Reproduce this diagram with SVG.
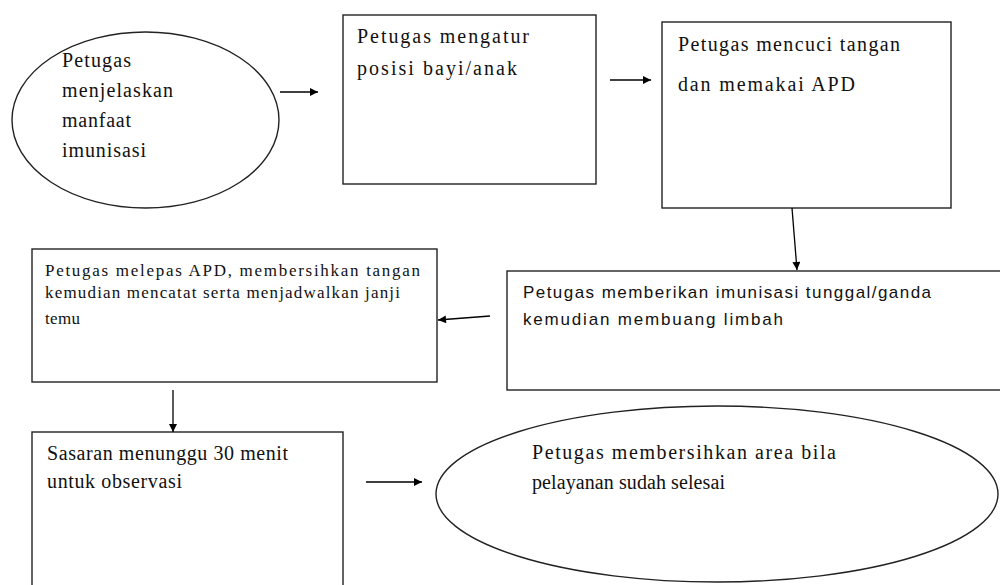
<svg xmlns="http://www.w3.org/2000/svg" width="1000" height="585" viewBox="0 0 1000 585">
<defs>
<marker id="ah" viewBox="0 0 10 10" refX="10" refY="5" markerWidth="9" markerHeight="8" markerUnits="userSpaceOnUse" orient="auto">
<path d="M0,0 L10,5 L0,10 z" fill="#000"/>
</marker>
<style>
.shape{fill:#fff;stroke:#222;stroke-width:1.4}
.serif{font-family:"Liberation Serif","Times New Roman",serif;fill:#111;font-size:20px}
.small{font-size:17px}
.sans{font-family:"Liberation Sans",Arial,sans-serif;fill:#111;font-size:17px}
.conn{stroke:#000;stroke-width:1.3;fill:none;marker-end:url(#ah)}
</style>
</defs>
<rect width="1000" height="585" fill="#fff"/>
<g id="n1">
<ellipse class="shape" cx="145.5" cy="120" rx="133.5" ry="88"/>
<text class="serif" x="62" y="67" textLength="69" lengthAdjust="spacing">Petugas</text>
<text class="serif" x="62" y="97" textLength="111" lengthAdjust="spacing">menjelaskan</text>
<text class="serif" x="62" y="127" textLength="69" lengthAdjust="spacing">manfaat</text>
<text class="serif" x="62" y="157" textLength="84" lengthAdjust="spacing">imunisasi</text>
</g>
<g id="n2">
<rect class="shape" x="343" y="15" width="253" height="169"/>
<text class="serif" x="357" y="43" textLength="172" lengthAdjust="spacing">Petugas  mengatur</text>
<text class="serif" x="357" y="75" textLength="160" lengthAdjust="spacing">posisi  bayi/anak</text>
</g>
<g id="n3">
<rect class="shape" x="662" y="22" width="289" height="186"/>
<text class="serif" x="678" y="51" textLength="222" lengthAdjust="spacing">Petugas  mencuci  tangan</text>
<text class="serif" x="678" y="91" textLength="177" lengthAdjust="spacing">dan memakai  APD</text>
</g>
<g id="n4">
<rect class="shape" x="507" y="271" width="500" height="119"/>
<text class="sans" x="523" y="298" textLength="408" lengthAdjust="spacing">Petugas memberikan imunisasi tunggal/ganda</text>
<text class="sans" x="523" y="325" textLength="260" lengthAdjust="spacing">kemudian membuang limbah</text>
</g>
<g id="n5">
<rect class="shape" x="32" y="249" width="405" height="133"/>
<text class="serif small" x="45" y="276" textLength="375" lengthAdjust="spacing">Petugas melepas APD, membersihkan  tangan</text>
<text class="serif small" x="45" y="298" textLength="355" lengthAdjust="spacing">kemudian mencatat serta menjadwalkan janji</text>
<text class="serif small" x="45" y="324" textLength="35" lengthAdjust="spacing">temu</text>
</g>
<g id="n6">
<rect class="shape" x="32" y="432" width="311" height="170"/>
<text class="serif" x="47" y="460" textLength="241" lengthAdjust="spacing">Sasaran menunggu  30 menit</text>
<text class="serif" x="47" y="488" textLength="135" lengthAdjust="spacing">untuk observasi</text>
</g>
<g id="n7">
<ellipse class="shape" cx="717" cy="494" rx="281" ry="88"/>
<text class="serif" x="532" y="459" textLength="304" lengthAdjust="spacing">Petugas  membersihkan  area bila</text>
<text class="serif" x="532" y="489" textLength="193" lengthAdjust="spacing">pelayanan  sudah  selesai</text>
</g>
<g id="connectors">
<line class="conn" x1="280" y1="92" x2="318" y2="92"/>
<line class="conn" x1="610" y1="80" x2="651" y2="80"/>
<line class="conn" x1="792" y1="208" x2="797" y2="270"/>
<line class="conn" x1="490" y1="316" x2="438" y2="320"/>
<line class="conn" x1="173" y1="390" x2="173" y2="432"/>
<line class="conn" x1="366" y1="482" x2="422" y2="482"/>
</g>
</svg>
